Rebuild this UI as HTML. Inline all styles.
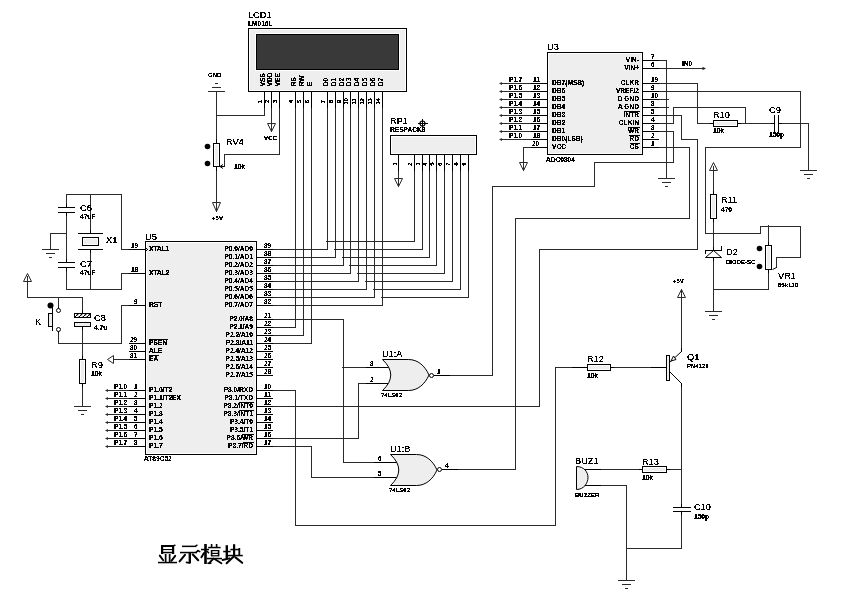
<!DOCTYPE html>
<html><head><meta charset="utf-8"><style>
html,body{margin:0;padding:0;background:#fff;width:845px;height:600px;overflow:hidden}
svg{display:block;will-change:transform}
text{font-family:"Liberation Sans",sans-serif;fill:#000;stroke:#000;stroke-width:0px}
.ref{stroke-width:0px}
</style></head><body>
<svg width="845" height="600" viewBox="0 0 845 600">
<rect x="0" y="0" width="845" height="600" fill="#fff"/>
<rect x="264" y="108" width="1" height="8" fill="#2a2a2a"/>
<rect x="216" y="115" width="49" height="1" fill="#2a2a2a"/>
<rect x="216" y="92" width="1" height="52" fill="#2a2a2a"/>
<rect x="271" y="108" width="1" height="24" fill="#2a2a2a"/>
<rect x="279" y="108" width="1" height="47" fill="#2a2a2a"/>
<rect x="224" y="154" width="56" height="1" fill="#2a2a2a"/>
<rect x="224" y="154" width="1" height="13" fill="#2a2a2a"/>
<rect x="216" y="166" width="1" height="46" fill="#2a2a2a"/>
<rect x="398" y="171" width="1" height="16" fill="#2a2a2a"/>
<rect x="326" y="241" width="89" height="1" fill="#2a2a2a"/>
<rect x="414" y="171" width="1" height="71" fill="#2a2a2a"/>
<rect x="334" y="249" width="89" height="1" fill="#2a2a2a"/>
<rect x="422" y="171" width="1" height="79" fill="#2a2a2a"/>
<rect x="342" y="257" width="88" height="1" fill="#2a2a2a"/>
<rect x="429" y="171" width="1" height="87" fill="#2a2a2a"/>
<rect x="349" y="265" width="88" height="1" fill="#2a2a2a"/>
<rect x="436" y="171" width="1" height="95" fill="#2a2a2a"/>
<rect x="357" y="273" width="88" height="1" fill="#2a2a2a"/>
<rect x="444" y="171" width="1" height="103" fill="#2a2a2a"/>
<rect x="365" y="281" width="88" height="1" fill="#2a2a2a"/>
<rect x="452" y="171" width="1" height="111" fill="#2a2a2a"/>
<rect x="373" y="289" width="88" height="1" fill="#2a2a2a"/>
<rect x="460" y="171" width="1" height="119" fill="#2a2a2a"/>
<rect x="381" y="297" width="88" height="1" fill="#2a2a2a"/>
<rect x="468" y="171" width="1" height="127" fill="#2a2a2a"/>
<rect x="273" y="249" width="55" height="1" fill="#2a2a2a"/>
<rect x="327" y="108" width="1" height="142" fill="#2a2a2a"/>
<rect x="273" y="257" width="63" height="1" fill="#2a2a2a"/>
<rect x="335" y="108" width="1" height="150" fill="#2a2a2a"/>
<rect x="273" y="265" width="71" height="1" fill="#2a2a2a"/>
<rect x="343" y="108" width="1" height="158" fill="#2a2a2a"/>
<rect x="273" y="273" width="78" height="1" fill="#2a2a2a"/>
<rect x="350" y="108" width="1" height="166" fill="#2a2a2a"/>
<rect x="273" y="281" width="86" height="1" fill="#2a2a2a"/>
<rect x="358" y="108" width="1" height="174" fill="#2a2a2a"/>
<rect x="273" y="289" width="94" height="1" fill="#2a2a2a"/>
<rect x="366" y="108" width="1" height="182" fill="#2a2a2a"/>
<rect x="273" y="297" width="102" height="1" fill="#2a2a2a"/>
<rect x="374" y="108" width="1" height="190" fill="#2a2a2a"/>
<rect x="273" y="305" width="110" height="1" fill="#2a2a2a"/>
<rect x="382" y="108" width="1" height="198" fill="#2a2a2a"/>
<rect x="273" y="319" width="71" height="1" fill="#2a2a2a"/>
<rect x="343" y="319" width="1" height="144" fill="#2a2a2a"/>
<rect x="343" y="462" width="31" height="1" fill="#2a2a2a"/>
<rect x="273" y="327" width="23" height="1" fill="#2a2a2a"/>
<rect x="295" y="108" width="1" height="220" fill="#2a2a2a"/>
<rect x="273" y="335" width="31" height="1" fill="#2a2a2a"/>
<rect x="303" y="108" width="1" height="228" fill="#2a2a2a"/>
<rect x="273" y="343" width="39" height="1" fill="#2a2a2a"/>
<rect x="311" y="108" width="1" height="236" fill="#2a2a2a"/>
<rect x="273" y="390" width="23" height="1" fill="#2a2a2a"/>
<rect x="295" y="390" width="1" height="136" fill="#2a2a2a"/>
<rect x="295" y="525" width="261" height="1" fill="#2a2a2a"/>
<rect x="555" y="367" width="1" height="159" fill="#2a2a2a"/>
<rect x="555" y="367" width="17" height="1" fill="#2a2a2a"/>
<rect x="273" y="406" width="267" height="1" fill="#2a2a2a"/>
<rect x="539" y="249" width="1" height="158" fill="#2a2a2a"/>
<rect x="539" y="249" width="159" height="1" fill="#2a2a2a"/>
<rect x="697" y="139" width="1" height="111" fill="#2a2a2a"/>
<rect x="681" y="139" width="17" height="1" fill="#2a2a2a"/>
<rect x="681" y="115" width="1" height="25" fill="#2a2a2a"/>
<rect x="659" y="115" width="23" height="1" fill="#2a2a2a"/>
<rect x="273" y="438" width="86" height="1" fill="#2a2a2a"/>
<rect x="358" y="383" width="1" height="56" fill="#2a2a2a"/>
<rect x="358" y="383" width="8" height="1" fill="#2a2a2a"/>
<rect x="273" y="446" width="39" height="1" fill="#2a2a2a"/>
<rect x="311" y="446" width="1" height="32" fill="#2a2a2a"/>
<rect x="311" y="477" width="63" height="1" fill="#2a2a2a"/>
<rect x="342" y="367" width="24" height="1" fill="#2a2a2a"/>
<rect x="121" y="194" width="1" height="56" fill="#2a2a2a"/>
<rect x="121" y="249" width="8" height="1" fill="#2a2a2a"/>
<rect x="121" y="273" width="1" height="17" fill="#2a2a2a"/>
<rect x="121" y="273" width="8" height="1" fill="#2a2a2a"/>
<rect x="58" y="333" width="1" height="11" fill="#2a2a2a"/>
<rect x="58" y="343" width="64" height="1" fill="#2a2a2a"/>
<rect x="121" y="305" width="1" height="39" fill="#2a2a2a"/>
<rect x="121" y="305" width="8" height="1" fill="#2a2a2a"/>
<rect x="113" y="359" width="16" height="1" fill="#2a2a2a"/>
<rect x="106" y="390" width="23" height="1" fill="#2a2a2a"/>
<rect x="106" y="398" width="23" height="1" fill="#2a2a2a"/>
<rect x="106" y="406" width="23" height="1" fill="#2a2a2a"/>
<rect x="106" y="414" width="23" height="1" fill="#2a2a2a"/>
<rect x="106" y="422" width="23" height="1" fill="#2a2a2a"/>
<rect x="106" y="430" width="23" height="1" fill="#2a2a2a"/>
<rect x="106" y="438" width="23" height="1" fill="#2a2a2a"/>
<rect x="106" y="446" width="23" height="1" fill="#2a2a2a"/>
<rect x="66" y="194" width="56" height="1" fill="#2a2a2a"/>
<rect x="66" y="194" width="1" height="10" fill="#2a2a2a"/>
<rect x="66" y="216" width="1" height="43" fill="#2a2a2a"/>
<rect x="66" y="271" width="1" height="19" fill="#2a2a2a"/>
<rect x="66" y="289" width="56" height="1" fill="#2a2a2a"/>
<rect x="50" y="233" width="17" height="1" fill="#2a2a2a"/>
<rect x="50" y="233" width="1" height="17" fill="#2a2a2a"/>
<rect x="90" y="194" width="1" height="36" fill="#2a2a2a"/>
<rect x="90" y="253" width="1" height="37" fill="#2a2a2a"/>
<rect x="27" y="276" width="1" height="22" fill="#2a2a2a"/>
<rect x="27" y="297" width="56" height="1" fill="#2a2a2a"/>
<rect x="82" y="297" width="1" height="13" fill="#2a2a2a"/>
<rect x="82" y="330" width="1" height="26" fill="#2a2a2a"/>
<rect x="82" y="387" width="1" height="20" fill="#2a2a2a"/>
<rect x="58" y="297" width="1" height="10" fill="#2a2a2a"/>
<rect x="500" y="83" width="31" height="1" fill="#2a2a2a"/>
<rect x="500" y="91" width="31" height="1" fill="#2a2a2a"/>
<rect x="500" y="99" width="31" height="1" fill="#2a2a2a"/>
<rect x="500" y="107" width="31" height="1" fill="#2a2a2a"/>
<rect x="500" y="115" width="31" height="1" fill="#2a2a2a"/>
<rect x="500" y="123" width="31" height="1" fill="#2a2a2a"/>
<rect x="500" y="131" width="31" height="1" fill="#2a2a2a"/>
<rect x="500" y="139" width="31" height="1" fill="#2a2a2a"/>
<rect x="523" y="147" width="8" height="1" fill="#2a2a2a"/>
<rect x="523" y="147" width="1" height="24" fill="#2a2a2a"/>
<rect x="659" y="60" width="8" height="1" fill="#2a2a2a"/>
<rect x="659" y="68" width="45" height="1" fill="#2a2a2a"/>
<rect x="659" y="83" width="39" height="1" fill="#2a2a2a"/>
<rect x="697" y="83" width="1" height="41" fill="#2a2a2a"/>
<rect x="697" y="123" width="13" height="1" fill="#2a2a2a"/>
<rect x="659" y="91" width="142" height="1" fill="#2a2a2a"/>
<rect x="800" y="91" width="1" height="57" fill="#2a2a2a"/>
<rect x="705" y="147" width="96" height="1" fill="#2a2a2a"/>
<rect x="705" y="147" width="1" height="87" fill="#2a2a2a"/>
<rect x="705" y="233" width="56" height="1" fill="#2a2a2a"/>
<rect x="760" y="226" width="1" height="8" fill="#2a2a2a"/>
<rect x="760" y="226" width="41" height="1" fill="#2a2a2a"/>
<rect x="800" y="226" width="1" height="32" fill="#2a2a2a"/>
<rect x="776" y="257" width="25" height="1" fill="#2a2a2a"/>
<rect x="776" y="257" width="1" height="11" fill="#2a2a2a"/>
<rect x="659" y="99" width="10" height="1" fill="#2a2a2a"/>
<rect x="659" y="107" width="10" height="1" fill="#2a2a2a"/>
<rect x="666" y="60" width="1" height="119" fill="#2a2a2a"/>
<rect x="659" y="123" width="15" height="1" fill="#2a2a2a"/>
<rect x="673" y="107" width="1" height="17" fill="#2a2a2a"/>
<rect x="673" y="107" width="73" height="1" fill="#2a2a2a"/>
<rect x="745" y="107" width="1" height="17" fill="#2a2a2a"/>
<rect x="659" y="131" width="15" height="1" fill="#2a2a2a"/>
<rect x="673" y="131" width="1" height="32" fill="#2a2a2a"/>
<rect x="594" y="162" width="80" height="1" fill="#2a2a2a"/>
<rect x="594" y="162" width="1" height="25" fill="#2a2a2a"/>
<rect x="492" y="186" width="103" height="1" fill="#2a2a2a"/>
<rect x="492" y="186" width="1" height="190" fill="#2a2a2a"/>
<rect x="450" y="375" width="43" height="1" fill="#2a2a2a"/>
<rect x="659" y="147" width="31" height="1" fill="#2a2a2a"/>
<rect x="689" y="147" width="1" height="72" fill="#2a2a2a"/>
<rect x="515" y="218" width="175" height="1" fill="#2a2a2a"/>
<rect x="515" y="218" width="1" height="252" fill="#2a2a2a"/>
<rect x="458" y="469" width="58" height="1" fill="#2a2a2a"/>
<rect x="741" y="123" width="30" height="1" fill="#2a2a2a"/>
<rect x="782" y="123" width="27" height="1" fill="#2a2a2a"/>
<rect x="808" y="123" width="1" height="48" fill="#2a2a2a"/>
<rect x="713" y="166" width="1" height="25" fill="#2a2a2a"/>
<rect x="713" y="222" width="1" height="25" fill="#2a2a2a"/>
<rect x="713" y="261" width="1" height="51" fill="#2a2a2a"/>
<rect x="713" y="289" width="56" height="1" fill="#2a2a2a"/>
<rect x="768" y="273" width="1" height="17" fill="#2a2a2a"/>
<rect x="768" y="225" width="1" height="17" fill="#2a2a2a"/>
<rect x="614" y="367" width="37" height="1" fill="#2a2a2a"/>
<rect x="681" y="289" width="1" height="59" fill="#2a2a2a"/>
<rect x="681" y="387" width="1" height="117" fill="#2a2a2a"/>
<rect x="681" y="515" width="1" height="34" fill="#2a2a2a"/>
<rect x="626" y="548" width="56" height="1" fill="#2a2a2a"/>
<rect x="601" y="469" width="38" height="1" fill="#2a2a2a"/>
<rect x="670" y="469" width="12" height="1" fill="#2a2a2a"/>
<rect x="601" y="485" width="26" height="1" fill="#2a2a2a"/>
<rect x="626" y="485" width="1" height="96" fill="#2a2a2a"/>
<rect x="208" y="91" width="17" height="1" fill="#2a2a2a"/>
<rect x="212" y="87" width="9" height="1" fill="#2a2a2a"/>
<rect x="215" y="83" width="3" height="1" fill="#2a2a2a"/>
<path d="M267.5 123.5 L275.5 123.5 L271.5 131.5 Z" fill="none" stroke="#2a2a2a" stroke-width="1"/>
<path d="M212.5 202.5 L220.5 202.5 L216.5 211.5 Z" fill="none" stroke="#2a2a2a" stroke-width="1"/>
<path d="M394.5 178.5 L402.5 178.5 L398.5 186.5 Z" fill="none" stroke="#2a2a2a" stroke-width="1"/>
<path d="M107.5 359.5 L113.5 355.5 L113.5 363.5 Z" fill="none" stroke="#2a2a2a" stroke-width="1"/>
<path d="M105 390.5 L108 389 L108 392 Z" fill="#2a2a2a"/>
<path d="M499 83.5 L502 82 L502 85 Z" fill="#2a2a2a"/>
<path d="M105 398.5 L108 397 L108 400 Z" fill="#2a2a2a"/>
<path d="M499 91.5 L502 90 L502 93 Z" fill="#2a2a2a"/>
<path d="M105 406.5 L108 405 L108 408 Z" fill="#2a2a2a"/>
<path d="M499 99.5 L502 98 L502 101 Z" fill="#2a2a2a"/>
<path d="M105 414.5 L108 413 L108 416 Z" fill="#2a2a2a"/>
<path d="M499 107.5 L502 106 L502 109 Z" fill="#2a2a2a"/>
<path d="M105 422.5 L108 421 L108 424 Z" fill="#2a2a2a"/>
<path d="M499 115.5 L502 114 L502 117 Z" fill="#2a2a2a"/>
<path d="M105 430.5 L108 429 L108 432 Z" fill="#2a2a2a"/>
<path d="M499 123.5 L502 122 L502 125 Z" fill="#2a2a2a"/>
<path d="M105 438.5 L108 437 L108 440 Z" fill="#2a2a2a"/>
<path d="M499 131.5 L502 130 L502 133 Z" fill="#2a2a2a"/>
<path d="M105 446.5 L108 445 L108 448 Z" fill="#2a2a2a"/>
<path d="M499 139.5 L502 138 L502 141 Z" fill="#2a2a2a"/>
<rect x="42" y="249" width="17" height="1" fill="#2a2a2a"/>
<rect x="46" y="253" width="9" height="1" fill="#2a2a2a"/>
<rect x="49" y="257" width="3" height="1" fill="#2a2a2a"/>
<path d="M27.5 273.5 L23.5 281.5 L31.5 281.5 Z" fill="none" stroke="#2a2a2a" stroke-width="1"/>
<rect x="74" y="406" width="17" height="1" fill="#2a2a2a"/>
<rect x="78" y="410" width="9" height="1" fill="#2a2a2a"/>
<rect x="81" y="414" width="3" height="1" fill="#2a2a2a"/>
<path d="M519.5 162.5 L527.5 162.5 L523.5 170.5 Z" fill="none" stroke="#2a2a2a" stroke-width="1"/>
<path d="M706 68.5 L702.5 66.8 L702.5 70.2 Z" fill="#2a2a2a"/>
<rect x="658" y="178" width="17" height="1" fill="#2a2a2a"/>
<rect x="662" y="182" width="9" height="1" fill="#2a2a2a"/>
<rect x="665" y="186" width="3" height="1" fill="#2a2a2a"/>
<rect x="800" y="170" width="17" height="1" fill="#2a2a2a"/>
<rect x="804" y="174" width="9" height="1" fill="#2a2a2a"/>
<rect x="807" y="178" width="3" height="1" fill="#2a2a2a"/>
<path d="M713.5 162.5 L709.5 170.5 L717.5 170.5 Z" fill="none" stroke="#2a2a2a" stroke-width="1"/>
<rect x="705" y="311" width="17" height="1" fill="#2a2a2a"/>
<rect x="709" y="315" width="9" height="1" fill="#2a2a2a"/>
<rect x="712" y="319" width="3" height="1" fill="#2a2a2a"/>
<path d="M681.5 289.5 L677.5 297.5 L685.5 297.5 Z" fill="none" stroke="#2a2a2a" stroke-width="1"/>
<rect x="618" y="580" width="17" height="1" fill="#2a2a2a"/>
<rect x="622" y="584" width="9" height="1" fill="#2a2a2a"/>
<rect x="625" y="588" width="3" height="1" fill="#2a2a2a"/>
<rect x="248" y="28" width="159" height="64" fill="#000"/>
<rect x="249" y="29" width="157" height="62" fill="#fff"/>
<rect x="250" y="30" width="155" height="60" fill="#eeeeee"/>
<rect x="255" y="33" width="145" height="38" fill="#fff"/>
<rect x="256" y="34" width="143" height="36" fill="#000"/>
<rect x="257" y="35" width="141" height="34" fill="#393939"/>
<rect x="264" y="92" width="1" height="16" fill="#000"/>
<rect x="271" y="92" width="1" height="16" fill="#000"/>
<rect x="279" y="92" width="1" height="16" fill="#000"/>
<rect x="295" y="92" width="1" height="16" fill="#000"/>
<rect x="303" y="92" width="1" height="16" fill="#000"/>
<rect x="311" y="92" width="1" height="16" fill="#000"/>
<rect x="327" y="92" width="1" height="16" fill="#000"/>
<rect x="335" y="92" width="1" height="16" fill="#000"/>
<rect x="343" y="92" width="1" height="16" fill="#000"/>
<rect x="350" y="92" width="1" height="16" fill="#000"/>
<rect x="358" y="92" width="1" height="16" fill="#000"/>
<rect x="366" y="92" width="1" height="16" fill="#000"/>
<rect x="374" y="92" width="1" height="16" fill="#000"/>
<rect x="382" y="92" width="1" height="16" fill="#000"/>
<path d="M224.5 166.5 L220.5 166.5" stroke="#000" stroke-width="1"/>
<path d="M220 166.5 L223 164.5 M220 166.5 L223 168.5" stroke="#000" stroke-width="1"/>
<rect x="216" y="139" width="1" height="4" fill="#000"/>
<rect x="216" y="167" width="1" height="4" fill="#000"/>
<rect x="213" y="143" width="7" height="24" fill="#000"/>
<rect x="214" y="144" width="5" height="22" fill="#fff"/>
<rect x="215" y="145" width="3" height="20" fill="#eeeeee"/>
<circle cx="207.5" cy="146.5" r="2.8" fill="#000"/>
<circle cx="207.5" cy="163.5" r="2.8" fill="#000"/>
<rect x="390" y="135" width="87" height="20" fill="#000"/>
<rect x="391" y="136" width="85" height="18" fill="#fff"/>
<rect x="392" y="137" width="83" height="16" fill="#eeeeee"/>
<circle cx="422.5" cy="123.5" r="2.5" fill="none" stroke="#000" stroke-width="1.2"/>
<rect x="418" y="123" width="10" height="1" fill="#000"/>
<rect x="422" y="119" width="1" height="10" fill="#000"/>
<rect x="398" y="155" width="1" height="16" fill="#000"/>
<rect x="414" y="155" width="1" height="16" fill="#000"/>
<rect x="422" y="155" width="1" height="16" fill="#000"/>
<rect x="429" y="155" width="1" height="16" fill="#000"/>
<rect x="436" y="155" width="1" height="16" fill="#000"/>
<rect x="444" y="155" width="1" height="16" fill="#000"/>
<rect x="452" y="155" width="1" height="16" fill="#000"/>
<rect x="460" y="155" width="1" height="16" fill="#000"/>
<rect x="468" y="155" width="1" height="16" fill="#000"/>
<rect x="145" y="241" width="112" height="214" fill="#000"/>
<rect x="146" y="242" width="110" height="212" fill="#fff"/>
<rect x="147" y="243" width="108" height="210" fill="#eeeeee"/>
<rect x="129" y="249" width="16" height="1" fill="#000"/>
<rect x="129" y="273" width="16" height="1" fill="#000"/>
<rect x="129" y="305" width="16" height="1" fill="#000"/>
<rect x="129" y="343" width="16" height="1" fill="#000"/>
<rect x="129" y="351" width="16" height="1" fill="#000"/>
<rect x="129" y="359" width="16" height="1" fill="#000"/>
<rect x="149" y="339" width="19" height="1" fill="#000"/>
<rect x="149" y="355" width="10" height="1" fill="#000"/>
<rect x="129" y="390" width="16" height="1" fill="#000"/>
<rect x="129" y="398" width="16" height="1" fill="#000"/>
<rect x="129" y="406" width="16" height="1" fill="#000"/>
<rect x="129" y="414" width="16" height="1" fill="#000"/>
<rect x="129" y="422" width="16" height="1" fill="#000"/>
<rect x="129" y="430" width="16" height="1" fill="#000"/>
<rect x="129" y="438" width="16" height="1" fill="#000"/>
<rect x="129" y="446" width="16" height="1" fill="#000"/>
<rect x="257" y="249" width="16" height="1" fill="#000"/>
<rect x="257" y="257" width="16" height="1" fill="#000"/>
<rect x="257" y="265" width="16" height="1" fill="#000"/>
<rect x="257" y="273" width="16" height="1" fill="#000"/>
<rect x="257" y="281" width="16" height="1" fill="#000"/>
<rect x="257" y="289" width="16" height="1" fill="#000"/>
<rect x="257" y="297" width="16" height="1" fill="#000"/>
<rect x="257" y="305" width="16" height="1" fill="#000"/>
<rect x="257" y="319" width="16" height="1" fill="#000"/>
<rect x="257" y="327" width="16" height="1" fill="#000"/>
<rect x="257" y="335" width="16" height="1" fill="#000"/>
<rect x="257" y="343" width="16" height="1" fill="#000"/>
<rect x="257" y="351" width="16" height="1" fill="#000"/>
<rect x="257" y="359" width="16" height="1" fill="#000"/>
<rect x="257" y="367" width="16" height="1" fill="#000"/>
<rect x="257" y="375" width="16" height="1" fill="#000"/>
<rect x="257" y="390" width="16" height="1" fill="#000"/>
<rect x="257" y="398" width="16" height="1" fill="#000"/>
<rect x="257" y="406" width="16" height="1" fill="#000"/>
<rect x="239" y="402" width="15" height="1" fill="#000"/>
<rect x="257" y="414" width="16" height="1" fill="#000"/>
<rect x="239" y="410" width="15" height="1" fill="#000"/>
<rect x="257" y="422" width="16" height="1" fill="#000"/>
<rect x="257" y="430" width="16" height="1" fill="#000"/>
<rect x="257" y="438" width="16" height="1" fill="#000"/>
<rect x="242" y="434" width="12" height="1" fill="#000"/>
<rect x="257" y="446" width="16" height="1" fill="#000"/>
<rect x="243" y="442" width="11" height="1" fill="#000"/>
<rect x="66" y="204" width="1" height="4" fill="#000"/>
<rect x="58" y="207" width="17" height="1" fill="#000"/>
<rect x="58" y="212" width="17" height="1" fill="#000"/>
<rect x="66" y="212" width="1" height="4" fill="#000"/>
<rect x="66" y="259" width="1" height="4" fill="#000"/>
<rect x="58" y="262" width="17" height="1" fill="#000"/>
<rect x="58" y="267" width="17" height="1" fill="#000"/>
<rect x="66" y="267" width="1" height="4" fill="#000"/>
<rect x="90" y="230" width="1" height="4" fill="#000"/>
<rect x="78" y="233" width="25" height="1" fill="#000"/>
<rect x="82" y="237" width="17" height="9" fill="#000"/>
<rect x="83" y="238" width="15" height="7" fill="#fff"/>
<rect x="84" y="239" width="13" height="5" fill="#eeeeee"/>
<rect x="78" y="249" width="25" height="1" fill="#000"/>
<rect x="90" y="249" width="1" height="4" fill="#000"/>
<rect x="82" y="310" width="1" height="4" fill="#000"/>
<defs><pattern id="hatch" width="4" height="4" patternUnits="userSpaceOnUse"><rect width="4" height="4" fill="#fff"/><path d="M0 4 L4 0" stroke="#000" stroke-width="1.2"/></pattern></defs>
<rect x="74" y="313" width="17" height="5" fill="#000"/>
<rect x="75" y="314" width="15" height="3" fill="url(#hatch)"/>
<rect x="74" y="322" width="17" height="5" fill="#000"/>
<rect x="75" y="323" width="15" height="3" fill="#eeeeee"/>
<rect x="82" y="326" width="1" height="4" fill="#000"/>
<rect x="82" y="356" width="1" height="3" fill="#000"/>
<rect x="82" y="384" width="1" height="3" fill="#000"/>
<rect x="79" y="359" width="7" height="25" fill="#000"/>
<rect x="80" y="360" width="5" height="23" fill="#fff"/>
<rect x="81" y="361" width="3" height="21" fill="#eeeeee"/>
<rect x="58" y="307" width="1" height="2" fill="#000"/>
<circle cx="58.5" cy="310.5" r="2" fill="#fff" stroke="#000" stroke-width="1"/>
<circle cx="58.5" cy="329.5" r="2" fill="#fff" stroke="#000" stroke-width="1"/>
<rect x="58" y="331" width="1" height="2" fill="#000"/>
<circle cx="50.5" cy="305.5" r="3" fill="#000"/>
<rect x="52" y="305" width="1" height="26" fill="#000"/>
<rect x="48" y="313" width="5" height="14" fill="#000"/>
<rect x="49" y="314" width="3" height="12" fill="#eeeeee"/>
<rect x="547" y="52" width="96" height="103" fill="#000"/>
<rect x="548" y="53" width="94" height="101" fill="#fff"/>
<rect x="549" y="54" width="92" height="99" fill="#eeeeee"/>
<rect x="531" y="83" width="16" height="1" fill="#000"/>
<rect x="531" y="91" width="16" height="1" fill="#000"/>
<rect x="531" y="99" width="16" height="1" fill="#000"/>
<rect x="531" y="107" width="16" height="1" fill="#000"/>
<rect x="531" y="115" width="16" height="1" fill="#000"/>
<rect x="531" y="123" width="16" height="1" fill="#000"/>
<rect x="531" y="131" width="16" height="1" fill="#000"/>
<rect x="531" y="139" width="16" height="1" fill="#000"/>
<rect x="531" y="147" width="16" height="1" fill="#000"/>
<rect x="643" y="60" width="16" height="1" fill="#000"/>
<rect x="643" y="68" width="16" height="1" fill="#000"/>
<rect x="643" y="83" width="16" height="1" fill="#000"/>
<rect x="643" y="91" width="16" height="1" fill="#000"/>
<rect x="643" y="99" width="16" height="1" fill="#000"/>
<rect x="643" y="107" width="16" height="1" fill="#000"/>
<rect x="643" y="115" width="16" height="1" fill="#000"/>
<rect x="643" y="123" width="16" height="1" fill="#000"/>
<rect x="643" y="131" width="16" height="1" fill="#000"/>
<rect x="643" y="139" width="16" height="1" fill="#000"/>
<rect x="643" y="147" width="16" height="1" fill="#000"/>
<rect x="624" y="111" width="16" height="1" fill="#000"/>
<rect x="628" y="127" width="12" height="1" fill="#000"/>
<rect x="629" y="135" width="11" height="1" fill="#000"/>
<rect x="630" y="143" width="10" height="1" fill="#000"/>
<rect x="710" y="123" width="3" height="1" fill="#000"/>
<rect x="713" y="120" width="25" height="7" fill="#000"/>
<rect x="714" y="121" width="23" height="5" fill="#fff"/>
<rect x="715" y="122" width="21" height="3" fill="#eeeeee"/>
<rect x="738" y="123" width="3" height="1" fill="#000"/>
<rect x="771" y="123" width="3" height="1" fill="#000"/>
<rect x="779" y="123" width="3" height="1" fill="#000"/>
<rect x="774" y="115" width="1" height="18" fill="#000"/>
<rect x="778" y="115" width="1" height="18" fill="#000"/>
<rect x="713" y="191" width="1" height="3" fill="#000"/>
<rect x="713" y="219" width="1" height="3" fill="#000"/>
<rect x="710" y="194" width="7" height="25" fill="#000"/>
<rect x="711" y="195" width="5" height="23" fill="#fff"/>
<rect x="712" y="196" width="3" height="21" fill="#eeeeee"/>
<rect x="713" y="247" width="1" height="4" fill="#000"/>
<path d="M705.5 257.5 L721.5 257.5 L713.5 250.5 Z" fill="#fff" stroke="#000" stroke-width="1"/>
<rect x="705" y="250" width="17" height="1" fill="#000"/>
<rect x="705" y="250" width="1" height="4" fill="#000"/>
<rect x="721" y="246" width="1" height="5" fill="#000"/>
<rect x="713" y="258" width="1" height="3" fill="#000"/>
<rect x="768" y="242" width="1" height="3" fill="#000"/>
<rect x="768" y="270" width="1" height="3" fill="#000"/>
<rect x="765" y="245" width="7" height="25" fill="#000"/>
<rect x="766" y="246" width="5" height="23" fill="#fff"/>
<rect x="767" y="247" width="3" height="21" fill="#eeeeee"/>
<circle cx="759.5" cy="248.5" r="2.8" fill="#000"/>
<circle cx="759.5" cy="266.5" r="2.8" fill="#000"/>
<path d="M776.5 267.5 L772.5 269.5" stroke="#000" stroke-width="1"/>
<rect x="572" y="367" width="15" height="1" fill="#000"/>
<rect x="587" y="364" width="24" height="7" fill="#000"/>
<rect x="588" y="365" width="22" height="5" fill="#fff"/>
<rect x="589" y="366" width="20" height="3" fill="#eeeeee"/>
<rect x="611" y="367" width="3" height="1" fill="#000"/>
<rect x="651" y="367" width="16" height="1" fill="#000"/>
<rect x="666" y="355" width="4" height="26" fill="#000"/>
<rect x="667" y="356" width="2" height="24" fill="#eeeeee"/>
<path d="M669.5 362.5 L681.5 351.5 M669.5 371.5 L681.5 383.5" stroke="#000" stroke-width="1"/>
<path d="M671 361 L673.5 356 L676 359.5 Z" fill="#fff" stroke="#000" stroke-width="1"/>
<rect x="681" y="348" width="1" height="4" fill="#000"/>
<rect x="681" y="383" width="1" height="4" fill="#000"/>
<rect x="673" y="507" width="18" height="1" fill="#000"/>
<rect x="673" y="511" width="18" height="1" fill="#000"/>
<rect x="681" y="504" width="1" height="4" fill="#000"/>
<rect x="681" y="511" width="1" height="4" fill="#000"/>
<path d="M576.5 466.5 C584 466.5 588 472 588 477.5 C588 483 584 489.5 576.5 489.5 Z" fill="#eeeeee" stroke="#000" stroke-width="1"/>
<rect x="585" y="469" width="16" height="1" fill="#000"/>
<rect x="585" y="485" width="16" height="1" fill="#000"/>
<rect x="639" y="469" width="3" height="1" fill="#000"/>
<rect x="642" y="466" width="25" height="7" fill="#000"/>
<rect x="643" y="467" width="23" height="5" fill="#fff"/>
<rect x="644" y="468" width="21" height="3" fill="#eeeeee"/>
<rect x="667" y="469" width="3" height="1" fill="#000"/>
<rect x="366" y="367" width="24" height="1" fill="#000"/>
<rect x="366" y="383" width="24" height="1" fill="#000"/>
<rect x="434" y="375" width="16" height="1" fill="#000"/>
<path d="M382.5 359.5 L408.5 359.5 C418 359.5 425 366 429 375 C425 384 418 390.5 408.5 390.5 L382.5 390.5 Q399 375 382.5 359.5 Z" fill="#eeeeee" stroke="#000" stroke-width="1"/>
<circle cx="431.5" cy="375.5" r="2" fill="#fff" stroke="#000" stroke-width="1"/>
<rect x="374" y="462" width="24" height="1" fill="#000"/>
<rect x="374" y="477" width="24" height="1" fill="#000"/>
<rect x="442" y="469" width="16" height="1" fill="#000"/>
<path d="M390.5 454.5 L416.5 454.5 C426 454.5 433 461 437 470 C433 479 426 485.5 416.5 485.5 L390.5 485.5 Q407 470 390.5 454.5 Z" fill="#eeeeee" stroke="#000" stroke-width="1"/>
<circle cx="439.5" cy="469.5" r="2" fill="#fff" stroke="#000" stroke-width="1"/>
<rect x="161" y="545" width="2.2" height="9" fill="#000"/>
<rect x="172" y="545" width="2.2" height="9" fill="#000"/>
<rect x="161" y="545" width="13" height="2" fill="#000"/>
<rect x="163" y="549" width="9" height="1.1" fill="#000"/>
<rect x="163" y="551.8" width="9" height="1.5" fill="#000"/>
<line x1="173" y1="546" x2="175" y2="545.2" stroke="#000" stroke-width="1.44" stroke-linecap="round"/>
<rect x="164.8" y="554" width="1.7" height="8.5" fill="#000"/>
<rect x="168.8" y="554" width="1.7" height="8.5" fill="#000"/>
<line x1="159.8" y1="555.6" x2="163.2" y2="560.2" stroke="#000" stroke-width="1.92" stroke-linecap="round"/>
<line x1="175.2" y1="555.8" x2="171.4" y2="560.8" stroke="#000" stroke-width="1.92" stroke-linecap="round"/>
<rect x="158" y="561.8" width="19" height="1.5" fill="#000"/>
<rect x="182" y="545.6" width="14" height="1.5" fill="#000"/>
<line x1="195.5" y1="546.3" x2="197" y2="545.2" stroke="#000" stroke-width="1.44" stroke-linecap="round"/>
<rect x="180" y="551.8" width="17" height="1.5" fill="#000"/>
<line x1="196" y1="552.3" x2="198" y2="550.6" stroke="#000" stroke-width="1.56" stroke-linecap="round"/>
<line x1="198" y1="550.6" x2="199.8" y2="551.6" stroke="#000" stroke-width="1.56" stroke-linecap="round"/>
<rect x="188.6" y="553" width="2.4" height="10.3" fill="#000"/>
<line x1="189.5" y1="563" x2="186.5" y2="562.4" stroke="#000" stroke-width="1.68" stroke-linecap="round"/>
<line x1="185" y1="554.8" x2="179.6" y2="561.4" stroke="#000" stroke-width="2.04" stroke-linecap="round"/>
<line x1="192.8" y1="554.6" x2="198.2" y2="560.2" stroke="#000" stroke-width="2.16" stroke-linecap="round"/>
<rect x="204.2" y="544" width="2.6" height="20" fill="#000"/>
<rect x="201" y="548.8" width="8" height="1.5" fill="#000"/>
<line x1="204" y1="553" x2="201.4" y2="557.3" stroke="#000" stroke-width="1.92" stroke-linecap="round"/>
<line x1="207" y1="551.3" x2="208.6" y2="552.8" stroke="#000" stroke-width="1.56" stroke-linecap="round"/>
<rect x="208.2" y="546.8" width="12.4" height="1.5" fill="#000"/>
<rect x="210.8" y="544" width="1.6" height="4" fill="#000"/>
<rect x="215.8" y="544" width="1.6" height="4" fill="#000"/>
<rect x="210.8" y="550" width="1.6" height="6.2" fill="#000"/>
<rect x="217.8" y="550" width="1.6" height="6.2" fill="#000"/>
<rect x="211" y="550" width="8" height="1.2" fill="#000"/>
<rect x="211" y="552.8" width="8" height="1.2" fill="#000"/>
<rect x="211" y="555.2" width="8" height="1.2" fill="#000"/>
<rect x="207" y="557.8" width="15" height="1.5" fill="#000"/>
<line x1="213.4" y1="558.6" x2="209.2" y2="563.2" stroke="#000" stroke-width="1.92" stroke-linecap="round"/>
<rect x="207.4" y="562.5" width="4" height="1.5" fill="#000"/>
<line x1="214.6" y1="559" x2="221.4" y2="563.2" stroke="#000" stroke-width="1.92" stroke-linecap="round"/>
<rect x="225.6" y="545.2" width="2.4" height="14" fill="#000"/>
<rect x="223.2" y="550.8" width="7.4" height="1.5" fill="#000"/>
<line x1="222.6" y1="560" x2="229.6" y2="558.4" stroke="#000" stroke-width="1.80" stroke-linecap="round"/>
<rect x="233" y="544.2" width="2.2" height="11.5" fill="#000"/>
<rect x="230.4" y="548.8" width="9.4" height="1.5" fill="#000"/>
<rect x="238.4" y="548" width="1.8" height="7" fill="#000"/>
<rect x="226.8" y="554.8" width="16" height="1.5" fill="#000"/>
<line x1="234" y1="556.2" x2="226.6" y2="563.2" stroke="#000" stroke-width="2.04" stroke-linecap="round"/>
<line x1="235.4" y1="557.4" x2="242.2" y2="562.8" stroke="#000" stroke-width="2.04" stroke-linecap="round"/>
<rect x="146" y="248" width="1" height="1" fill="#000"/>
<rect x="147" y="249" width="1" height="1" fill="#000"/>
<rect x="146" y="250" width="1" height="1" fill="#000"/>
<rect x="146" y="249" width="1" height="1" fill="#fff"/>
<defs><filter id="crisp" x="0" y="0" width="100%" height="100%" filterUnits="userSpaceOnUse"><feComponentTransfer><feFuncA type="discrete" tableValues="0 1 1"/></feComponentTransfer></filter></defs>
<g filter="url(#crisp)">
<text x="248" y="18" font-size="9.2" class="ref">LCD1</text>
<text x="248" y="26" font-size="6.6" font-weight="bold">LM016L</text>
<text x="265.5" y="86.3" font-size="6.6" font-weight="bold" transform="rotate(-90 265.5 86.3)">VSS</text>
<text x="262" y="101.5" font-size="6.0" font-weight="bold" text-anchor="middle" transform="rotate(-90 262 101.5)">1</text>
<text x="272.5" y="86.3" font-size="6.6" font-weight="bold" transform="rotate(-90 272.5 86.3)">VDD</text>
<text x="269" y="101.5" font-size="6.0" font-weight="bold" text-anchor="middle" transform="rotate(-90 269 101.5)">2</text>
<text x="280.5" y="86.3" font-size="6.6" font-weight="bold" transform="rotate(-90 280.5 86.3)">VEE</text>
<text x="277" y="101.5" font-size="6.0" font-weight="bold" text-anchor="middle" transform="rotate(-90 277 101.5)">3</text>
<text x="296.5" y="86.3" font-size="6.6" font-weight="bold" transform="rotate(-90 296.5 86.3)">RS</text>
<text x="293" y="101.5" font-size="6.0" font-weight="bold" text-anchor="middle" transform="rotate(-90 293 101.5)">4</text>
<text x="304.5" y="86.3" font-size="6.6" font-weight="bold" transform="rotate(-90 304.5 86.3)">RW</text>
<text x="301" y="101.5" font-size="6.0" font-weight="bold" text-anchor="middle" transform="rotate(-90 301 101.5)">5</text>
<text x="312.5" y="86.3" font-size="6.6" font-weight="bold" transform="rotate(-90 312.5 86.3)">E</text>
<text x="309" y="101.5" font-size="6.0" font-weight="bold" text-anchor="middle" transform="rotate(-90 309 101.5)">6</text>
<text x="328.5" y="86.3" font-size="6.6" font-weight="bold" transform="rotate(-90 328.5 86.3)">D0</text>
<text x="325" y="101.5" font-size="6.0" font-weight="bold" text-anchor="middle" transform="rotate(-90 325 101.5)">7</text>
<text x="336.5" y="86.3" font-size="6.6" font-weight="bold" transform="rotate(-90 336.5 86.3)">D1</text>
<text x="333" y="101.5" font-size="6.0" font-weight="bold" text-anchor="middle" transform="rotate(-90 333 101.5)">8</text>
<text x="344.5" y="86.3" font-size="6.6" font-weight="bold" transform="rotate(-90 344.5 86.3)">D2</text>
<text x="341" y="101.5" font-size="6.0" font-weight="bold" text-anchor="middle" transform="rotate(-90 341 101.5)">9</text>
<text x="351.5" y="86.3" font-size="6.6" font-weight="bold" transform="rotate(-90 351.5 86.3)">D3</text>
<text x="348" y="101.5" font-size="6.0" font-weight="bold" text-anchor="middle" transform="rotate(-90 348 101.5)">10</text>
<text x="359.5" y="86.3" font-size="6.6" font-weight="bold" transform="rotate(-90 359.5 86.3)">D4</text>
<text x="356" y="101.5" font-size="6.0" font-weight="bold" text-anchor="middle" transform="rotate(-90 356 101.5)">11</text>
<text x="367.5" y="86.3" font-size="6.6" font-weight="bold" transform="rotate(-90 367.5 86.3)">D5</text>
<text x="364" y="101.5" font-size="6.0" font-weight="bold" text-anchor="middle" transform="rotate(-90 364 101.5)">12</text>
<text x="375.5" y="86.3" font-size="6.6" font-weight="bold" transform="rotate(-90 375.5 86.3)">D6</text>
<text x="372" y="101.5" font-size="6.0" font-weight="bold" text-anchor="middle" transform="rotate(-90 372 101.5)">13</text>
<text x="383.5" y="86.3" font-size="6.6" font-weight="bold" transform="rotate(-90 383.5 86.3)">D7</text>
<text x="380" y="101.5" font-size="6.0" font-weight="bold" text-anchor="middle" transform="rotate(-90 380 101.5)">14</text>
<text x="208" y="77" font-size="6.0" font-weight="bold">GND</text>
<text x="264" y="140" font-size="6.2" font-weight="bold">VCC</text>
<text x="212" y="220" font-size="6.2" font-weight="bold">+5V</text>
<text x="226" y="145" font-size="9.2" class="ref">RV4</text>
<text x="234" y="168.8" font-size="6.6" font-weight="bold">10k</text>
<text x="390" y="124" font-size="9.2" class="ref">RP1</text>
<text x="390" y="132" font-size="6.6" font-weight="bold">RESPACK8</text>
<text x="397" y="164" font-size="6.0" font-weight="bold" text-anchor="middle" transform="rotate(-90 397 164)">1</text>
<text x="412" y="164" font-size="6.0" font-weight="bold" text-anchor="middle" transform="rotate(-90 412 164)">2</text>
<text x="420" y="164" font-size="6.0" font-weight="bold" text-anchor="middle" transform="rotate(-90 420 164)">3</text>
<text x="427" y="164" font-size="6.0" font-weight="bold" text-anchor="middle" transform="rotate(-90 427 164)">4</text>
<text x="434" y="164" font-size="6.0" font-weight="bold" text-anchor="middle" transform="rotate(-90 434 164)">5</text>
<text x="442" y="164" font-size="6.0" font-weight="bold" text-anchor="middle" transform="rotate(-90 442 164)">6</text>
<text x="450" y="164" font-size="6.0" font-weight="bold" text-anchor="middle" transform="rotate(-90 450 164)">7</text>
<text x="458" y="164" font-size="6.0" font-weight="bold" text-anchor="middle" transform="rotate(-90 458 164)">8</text>
<text x="466" y="164" font-size="6.0" font-weight="bold" text-anchor="middle" transform="rotate(-90 466 164)">9</text>
<text x="145" y="239.5" font-size="9.2" class="ref">U5</text>
<text x="144" y="460.5" font-size="6.6" font-weight="bold">AT89C52</text>
<text x="131" y="248" font-size="6.4" font-weight="bold">19</text>
<text x="149" y="251.0" font-size="6.6" font-weight="bold">XTAL1</text>
<text x="131" y="272" font-size="6.4" font-weight="bold">18</text>
<text x="149" y="275.0" font-size="6.6" font-weight="bold">XTAL2</text>
<text x="134" y="304" font-size="6.4" font-weight="bold">9</text>
<text x="149" y="307.0" font-size="6.6" font-weight="bold">RST</text>
<text x="130" y="342" font-size="6.4" font-weight="bold">29</text>
<text x="149" y="345.0" font-size="6.6" font-weight="bold">PSEN</text>
<text x="130" y="350" font-size="6.4" font-weight="bold">30</text>
<text x="149" y="353.0" font-size="6.6" font-weight="bold">ALE</text>
<text x="130" y="358" font-size="6.4" font-weight="bold">31</text>
<text x="149" y="361.0" font-size="6.6" font-weight="bold">EA</text>
<text x="114" y="389" font-size="6.4" font-weight="bold">P1.0</text>
<text x="134" y="389" font-size="6.4" font-weight="bold">1</text>
<text x="149" y="392.0" font-size="6.6" font-weight="bold">P1.0/T2</text>
<text x="114" y="397" font-size="6.4" font-weight="bold">P1.1</text>
<text x="134" y="397" font-size="6.4" font-weight="bold">2</text>
<text x="149" y="400.0" font-size="6.6" font-weight="bold">P1.1/T2EX</text>
<text x="114" y="405" font-size="6.4" font-weight="bold">P1.2</text>
<text x="134" y="405" font-size="6.4" font-weight="bold">3</text>
<text x="149" y="408.0" font-size="6.6" font-weight="bold">P1.2</text>
<text x="114" y="413" font-size="6.4" font-weight="bold">P1.3</text>
<text x="134" y="413" font-size="6.4" font-weight="bold">4</text>
<text x="149" y="416.0" font-size="6.6" font-weight="bold">P1.3</text>
<text x="114" y="421" font-size="6.4" font-weight="bold">P1.4</text>
<text x="134" y="421" font-size="6.4" font-weight="bold">5</text>
<text x="149" y="424.0" font-size="6.6" font-weight="bold">P1.4</text>
<text x="114" y="429" font-size="6.4" font-weight="bold">P1.5</text>
<text x="134" y="429" font-size="6.4" font-weight="bold">6</text>
<text x="149" y="432.0" font-size="6.6" font-weight="bold">P1.5</text>
<text x="114" y="437" font-size="6.4" font-weight="bold">P1.6</text>
<text x="134" y="437" font-size="6.4" font-weight="bold">7</text>
<text x="149" y="440.0" font-size="6.6" font-weight="bold">P1.6</text>
<text x="114" y="445" font-size="6.4" font-weight="bold">P1.7</text>
<text x="134" y="445" font-size="6.4" font-weight="bold">8</text>
<text x="149" y="448.0" font-size="6.6" font-weight="bold">P1.7</text>
<text x="264" y="248" font-size="6.4" font-weight="bold">39</text>
<text x="253" y="251.0" font-size="6.6" font-weight="bold" text-anchor="end">P0.0/AD0</text>
<text x="264" y="256" font-size="6.4" font-weight="bold">38</text>
<text x="253" y="259.0" font-size="6.6" font-weight="bold" text-anchor="end">P0.1/AD1</text>
<text x="264" y="264" font-size="6.4" font-weight="bold">37</text>
<text x="253" y="267.0" font-size="6.6" font-weight="bold" text-anchor="end">P0.2/AD2</text>
<text x="264" y="272" font-size="6.4" font-weight="bold">36</text>
<text x="253" y="275.0" font-size="6.6" font-weight="bold" text-anchor="end">P0.3/AD3</text>
<text x="264" y="280" font-size="6.4" font-weight="bold">35</text>
<text x="253" y="283.0" font-size="6.6" font-weight="bold" text-anchor="end">P0.4/AD4</text>
<text x="264" y="288" font-size="6.4" font-weight="bold">34</text>
<text x="253" y="291.0" font-size="6.6" font-weight="bold" text-anchor="end">P0.5/AD5</text>
<text x="264" y="296" font-size="6.4" font-weight="bold">33</text>
<text x="253" y="299.0" font-size="6.6" font-weight="bold" text-anchor="end">P0.6/AD6</text>
<text x="264" y="304" font-size="6.4" font-weight="bold">32</text>
<text x="253" y="307.0" font-size="6.6" font-weight="bold" text-anchor="end">P0.7/AD7</text>
<text x="264" y="318" font-size="6.4" font-weight="bold">21</text>
<text x="253" y="321.0" font-size="6.6" font-weight="bold" text-anchor="end">P2.0/A8</text>
<text x="264" y="326" font-size="6.4" font-weight="bold">22</text>
<text x="253" y="329.0" font-size="6.6" font-weight="bold" text-anchor="end">P2.1/A9</text>
<text x="264" y="334" font-size="6.4" font-weight="bold">23</text>
<text x="253" y="337.0" font-size="6.6" font-weight="bold" text-anchor="end">P2.2/A10</text>
<text x="264" y="342" font-size="6.4" font-weight="bold">24</text>
<text x="253" y="345.0" font-size="6.6" font-weight="bold" text-anchor="end">P2.3/A11</text>
<text x="264" y="350" font-size="6.4" font-weight="bold">25</text>
<text x="253" y="353.0" font-size="6.6" font-weight="bold" text-anchor="end">P2.4/A12</text>
<text x="264" y="358" font-size="6.4" font-weight="bold">26</text>
<text x="253" y="361.0" font-size="6.6" font-weight="bold" text-anchor="end">P2.5/A13</text>
<text x="264" y="366" font-size="6.4" font-weight="bold">27</text>
<text x="253" y="369.0" font-size="6.6" font-weight="bold" text-anchor="end">P2.6/A14</text>
<text x="264" y="374" font-size="6.4" font-weight="bold">28</text>
<text x="253" y="377.0" font-size="6.6" font-weight="bold" text-anchor="end">P2.7/A15</text>
<text x="264" y="389" font-size="6.4" font-weight="bold">10</text>
<text x="253" y="392.0" font-size="6.6" font-weight="bold" text-anchor="end">P3.0/RXD</text>
<text x="264" y="397" font-size="6.4" font-weight="bold">11</text>
<text x="253" y="400.0" font-size="6.6" font-weight="bold" text-anchor="end">P3.1/TXD</text>
<text x="264" y="405" font-size="6.4" font-weight="bold">12</text>
<text x="253" y="408.0" font-size="6.6" font-weight="bold" text-anchor="end">P3.2/INT0</text>
<text x="264" y="413" font-size="6.4" font-weight="bold">13</text>
<text x="253" y="416.0" font-size="6.6" font-weight="bold" text-anchor="end">P3.3/INT1</text>
<text x="264" y="421" font-size="6.4" font-weight="bold">14</text>
<text x="253" y="424.0" font-size="6.6" font-weight="bold" text-anchor="end">P3.4/T0</text>
<text x="264" y="429" font-size="6.4" font-weight="bold">15</text>
<text x="253" y="432.0" font-size="6.6" font-weight="bold" text-anchor="end">P3.5/T1</text>
<text x="264" y="437" font-size="6.4" font-weight="bold">16</text>
<text x="253" y="440.0" font-size="6.6" font-weight="bold" text-anchor="end">P3.6/WR</text>
<text x="264" y="445" font-size="6.4" font-weight="bold">17</text>
<text x="253" y="448.0" font-size="6.6" font-weight="bold" text-anchor="end">P3.7/RD</text>
<text x="80" y="211" font-size="9.2" class="ref">C6</text>
<text x="80" y="219" font-size="6.6" font-weight="bold">47uF</text>
<text x="106" y="243" font-size="9.2" class="ref">X1</text>
<text x="80" y="267" font-size="9.2" class="ref">C7</text>
<text x="80" y="274.5" font-size="6.6" font-weight="bold">47uF</text>
<text x="35" y="325" font-size="9.2" class="ref">K</text>
<text x="94" y="321" font-size="9.2" class="ref">C8</text>
<text x="94" y="330" font-size="6.6" font-weight="bold">4.7u</text>
<text x="91" y="368" font-size="9.2" class="ref">R9</text>
<text x="91" y="376" font-size="6.6" font-weight="bold">10k</text>
<text x="547" y="49.5" font-size="9.2" class="ref">U3</text>
<text x="546" y="161.5" font-size="6.6" font-weight="bold">ADC0804</text>
<text x="509" y="82" font-size="6.4" font-weight="bold">P1.7</text>
<text x="533" y="82" font-size="6.4" font-weight="bold">11</text>
<text x="552" y="85.0" font-size="6.6" font-weight="bold">DB7(MSB)</text>
<text x="509" y="90" font-size="6.4" font-weight="bold">P1.6</text>
<text x="533" y="90" font-size="6.4" font-weight="bold">12</text>
<text x="552" y="93.0" font-size="6.6" font-weight="bold">DB6</text>
<text x="509" y="98" font-size="6.4" font-weight="bold">P1.5</text>
<text x="533" y="98" font-size="6.4" font-weight="bold">13</text>
<text x="552" y="101.0" font-size="6.6" font-weight="bold">DB5</text>
<text x="509" y="106" font-size="6.4" font-weight="bold">P1.4</text>
<text x="533" y="106" font-size="6.4" font-weight="bold">14</text>
<text x="552" y="109.0" font-size="6.6" font-weight="bold">DB4</text>
<text x="509" y="114" font-size="6.4" font-weight="bold">P1.3</text>
<text x="533" y="114" font-size="6.4" font-weight="bold">15</text>
<text x="552" y="117.0" font-size="6.6" font-weight="bold">DB3</text>
<text x="509" y="122" font-size="6.4" font-weight="bold">P1.2</text>
<text x="533" y="122" font-size="6.4" font-weight="bold">16</text>
<text x="552" y="125.0" font-size="6.6" font-weight="bold">DB2</text>
<text x="509" y="130" font-size="6.4" font-weight="bold">P1.1</text>
<text x="533" y="130" font-size="6.4" font-weight="bold">17</text>
<text x="552" y="133.0" font-size="6.6" font-weight="bold">DB1</text>
<text x="509" y="138" font-size="6.4" font-weight="bold">P1.0</text>
<text x="533" y="138" font-size="6.4" font-weight="bold">18</text>
<text x="552" y="141.0" font-size="6.6" font-weight="bold">DB0(LSB)</text>
<text x="532" y="146" font-size="6.4" font-weight="bold">20</text>
<text x="552" y="149.0" font-size="6.6" font-weight="bold">VCC</text>
<text x="639" y="62.0" font-size="6.6" font-weight="bold" text-anchor="end">VIN-</text>
<text x="651" y="59" font-size="6.4" font-weight="bold">7</text>
<text x="639" y="70.0" font-size="6.6" font-weight="bold" text-anchor="end">VIN+</text>
<text x="651" y="67" font-size="6.4" font-weight="bold">6</text>
<text x="639" y="85.0" font-size="6.6" font-weight="bold" text-anchor="end">CLKR</text>
<text x="651" y="82" font-size="6.4" font-weight="bold">19</text>
<text x="639" y="93.0" font-size="6.6" font-weight="bold" text-anchor="end">VREF/2</text>
<text x="651" y="90" font-size="6.4" font-weight="bold">9</text>
<text x="639" y="101.0" font-size="6.6" font-weight="bold" text-anchor="end">D GND</text>
<text x="651" y="98" font-size="6.4" font-weight="bold">10</text>
<text x="639" y="109.0" font-size="6.6" font-weight="bold" text-anchor="end">A GND</text>
<text x="651" y="106" font-size="6.4" font-weight="bold">8</text>
<text x="639" y="117.0" font-size="6.6" font-weight="bold" text-anchor="end">INTR</text>
<text x="651" y="114" font-size="6.4" font-weight="bold">5</text>
<text x="639" y="125.0" font-size="6.6" font-weight="bold" text-anchor="end">CLKIN</text>
<text x="651" y="122" font-size="6.4" font-weight="bold">4</text>
<text x="639" y="133.0" font-size="6.6" font-weight="bold" text-anchor="end">WR</text>
<text x="651" y="130" font-size="6.4" font-weight="bold">3</text>
<text x="639" y="141.0" font-size="6.6" font-weight="bold" text-anchor="end">RD</text>
<text x="651" y="138" font-size="6.4" font-weight="bold">2</text>
<text x="639" y="149.0" font-size="6.6" font-weight="bold" text-anchor="end">CS</text>
<text x="651" y="146" font-size="6.4" font-weight="bold">1</text>
<text x="682" y="66" font-size="6.6" font-weight="bold">IN0</text>
<text x="713" y="118" font-size="9.2" class="ref">R10</text>
<text x="713" y="133" font-size="6.6" font-weight="bold">10k</text>
<text x="769" y="113" font-size="9.2" class="ref">C9</text>
<text x="769" y="137" font-size="6.6" font-weight="bold">150p</text>
<text x="721" y="203" font-size="9.2" class="ref">R11</text>
<text x="721" y="211.5" font-size="6.6" font-weight="bold">470</text>
<text x="726" y="255" font-size="9.2" class="ref">D2</text>
<text x="726" y="263.5" font-size="6.0" font-weight="bold">DIODE-SC</text>
<text x="778" y="279" font-size="9.2" class="ref">VR1</text>
<text x="778" y="287" font-size="6.0" font-weight="bold">85k130</text>
<text x="673" y="283" font-size="6.0" font-weight="bold">+5V</text>
<text x="687" y="359.5" font-size="9.2" class="ref">Q1</text>
<text x="687" y="367.5" font-size="6.0" font-weight="bold">PN4121</text>
<text x="587" y="362" font-size="9.2" class="ref">R12</text>
<text x="587" y="378" font-size="6.6" font-weight="bold">10k</text>
<text x="575" y="464" font-size="9.2" class="ref">BUZ1</text>
<text x="575" y="496.5" font-size="6.0" font-weight="bold">BUZZER</text>
<text x="642" y="465" font-size="9.2" class="ref">R13</text>
<text x="642" y="479.5" font-size="6.6" font-weight="bold">10k</text>
<text x="694" y="510" font-size="9.2" class="ref">C10</text>
<text x="694" y="518.5" font-size="6.6" font-weight="bold">150p</text>
<text x="382" y="356.5" font-size="9.2" class="ref">U1:A</text>
<text x="381" y="397" font-size="6.0" font-weight="bold">74LS02</text>
<text x="370" y="366" font-size="6.4" font-weight="bold">3</text>
<text x="370" y="382" font-size="6.4" font-weight="bold">2</text>
<text x="437" y="374" font-size="6.4" font-weight="bold">1</text>
<text x="390" y="451.5" font-size="9.2" class="ref">U1:B</text>
<text x="389" y="492" font-size="6.0" font-weight="bold">74LS02</text>
<text x="378" y="461" font-size="6.4" font-weight="bold">6</text>
<text x="378" y="476" font-size="6.4" font-weight="bold">5</text>
<text x="445" y="468" font-size="6.4" font-weight="bold">4</text>
</g>
</svg>
</body></html>
